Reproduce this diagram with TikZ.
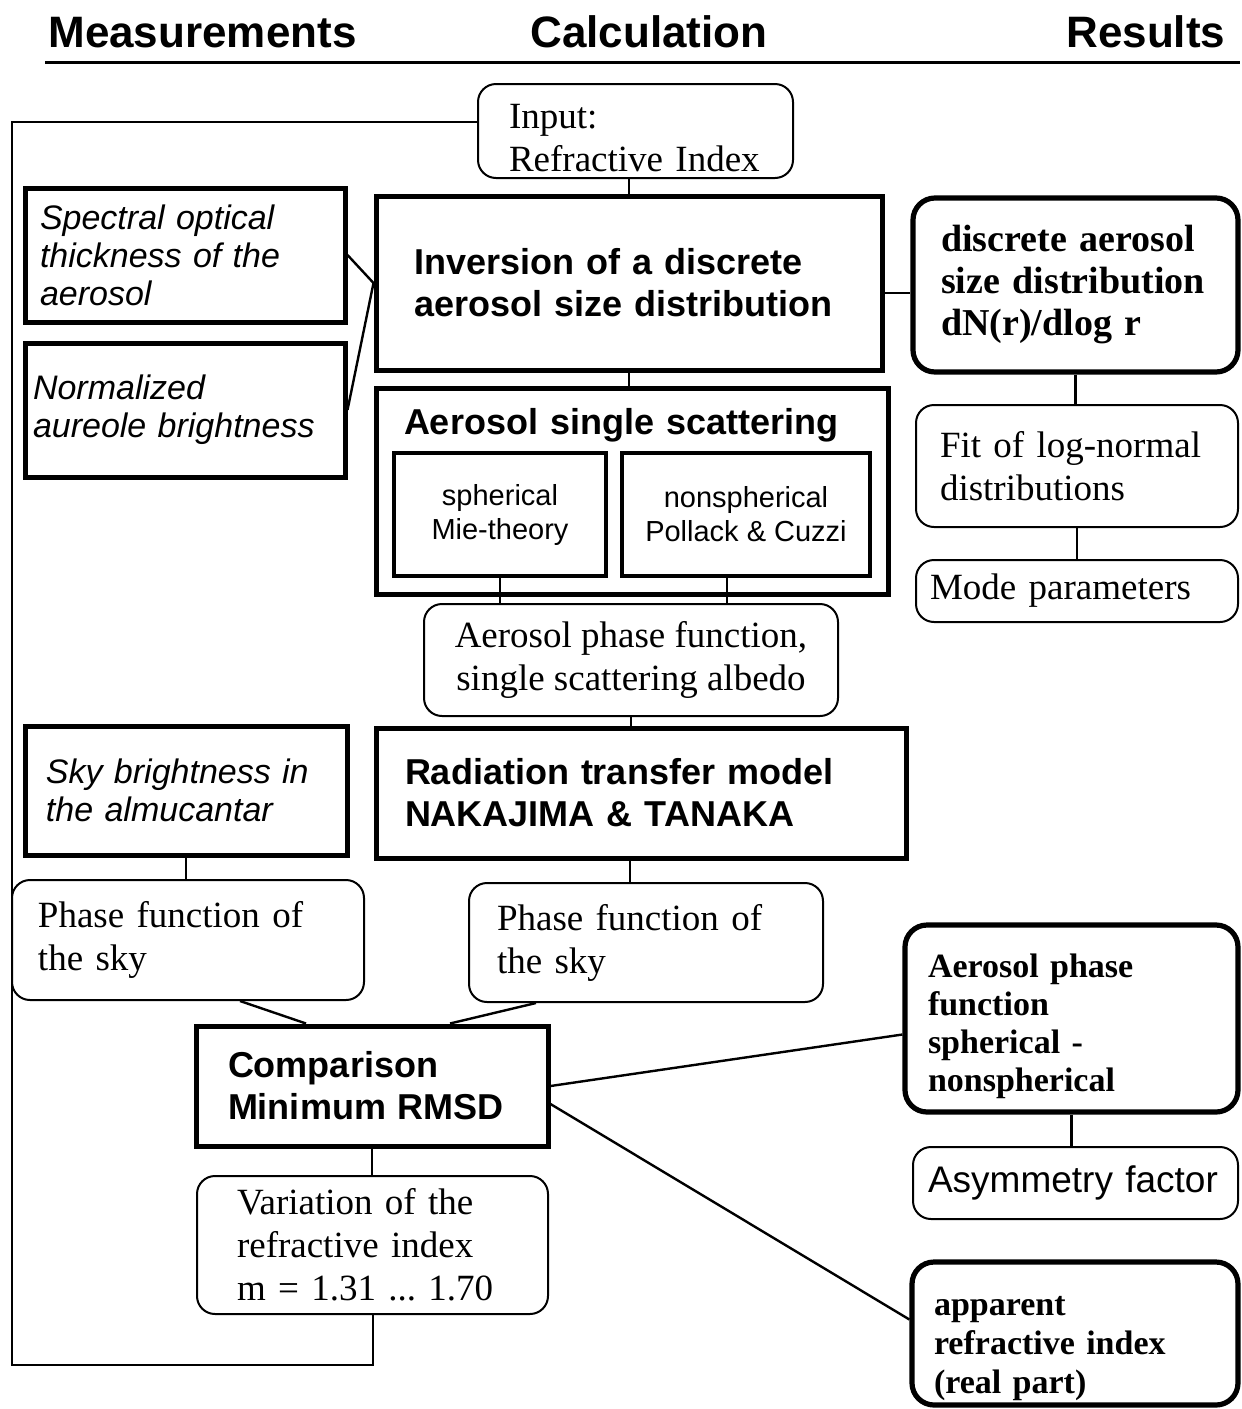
\documentclass[tikz,border=0pt]{standalone}
\usepackage{fontspec}
\setmainfont{Liberation Serif}
\setsansfont{Liberation Sans}
\frenchspacing

\begin{document}
\begin{tikzpicture}[x=0.5pt, y=-0.5pt,
	every node/.style={inner ysep=0pt},
	heavy/.style={draw, line width=2.5pt, align=left},
	soft/.style={draw, line width=1pt, rounded corners=9pt, align=left},
	softheavy/.style={draw, line width=2.6pt, rounded corners=11pt, align=left},
	inner/.style={draw, line width=1.7pt, align=center, font=\sffamily\fontsize{14.5}{17}\selectfont},
	link/.style={line width=1.2pt},
	headfont/.style={font=\sffamily\bfseries\fontsize{22}{26}\selectfont, inner xsep=0pt},
	measfont/.style={font=\sffamily\itshape\fontsize{17}{19}\selectfont},
	calcfont/.style={font=\sffamily\bfseries\fontsize{18}{21}\selectfont},
	plainfont/.style={font=\rmfamily\fontsize{18.5}{21.5}\selectfont},
	resfont/.style={font=\rmfamily\bfseries\fontsize{19}{21}\selectfont}]
	\useasboundingbox (0,0) rectangle (1242,1409);
	% column titles
	\node[headfont, anchor=base west] (hmeas) at (48,47) {Measurements};
	\node[headfont, anchor=base west] (hcalc) at (530,47) {Calculation};
	\node[headfont, anchor=base west] (hres) at (1066,47) {Results};
	\draw[line width=1.5pt] (45,62) -- (1240,62);
	% measurements
	\node[measfont, heavy, minimum width=160pt, minimum height=67pt, inner xsep=7.5pt, text width=145pt] (spec) at (185,255) {Spectral optical\\thickness of the\\aerosol};
	\node[measfont, heavy, minimum width=160pt, minimum height=67pt, inner xsep=4pt, text width=152pt] (norm) at (185,410) {Normalized\\aureole brightness};
	\node[measfont, heavy, minimum width=161pt, minimum height=64.5pt, inner xsep=10.5pt, text width=140pt] (sky) at (186,790.5) {Sky brightness in\\the almucantar};
	\node[plainfont, soft, minimum width=176pt, minimum height=60pt, inner xsep=13pt, text width=150pt] (phl) at (188,940) {Phase function of\\the sky};
	% calculation
	\node[plainfont, soft, minimum width=157.5pt, minimum height=47pt, inner xsep=15.5pt, text width=126.5pt] (inp) at (635.5,131) {\rule{0pt}{19pt}Input:\\Refractive Index};
	\node[calcfont, heavy, minimum width=253pt, minimum height=87pt, inner xsep=19pt, text width=215pt] (inv) at (629,283) {Inversion of a discrete\\aerosol size distribution};
	\node[calcfont, heavy, minimum width=256pt, inner xsep=14pt, text width=228pt, text height=23pt, text depth=80pt] (sing) at (632,491) {Aerosol single scattering};
	\node[inner, minimum width=106pt, minimum height=61.5pt] (sph) at (500,514.5) {spherical\\Mie-theory};
	\node[inner, minimum width=124pt, minimum height=61.5pt] (nsph) at (746,514.5) {nonspherical\\Pollack \& Cuzzi};
	\node[plainfont, soft, align=center, minimum width=207pt, minimum height=56pt] (albedo) at (631,660) {Aerosol phase function,\\single scattering albedo};
	\node[calcfont, heavy, minimum width=265pt, minimum height=65pt, inner xsep=14.5pt, text width=236pt] (rad) at (641,793) {Radiation transfer model\\NAKAJIMA \& TANAKA};
	\node[plainfont, soft, minimum width=177pt, minimum height=59.5pt, inner xsep=14pt, text width=149pt] (phm) at (646,942.5) {Phase function of\\the sky};
	\node[calcfont, heavy, minimum width=176pt, minimum height=60pt, inner xsep=16pt, text width=144pt] (comp) at (372,1086) {Comparison\\Minimum RMSD};
	\node[plainfont, soft, minimum width=175.5pt, minimum height=69pt, inner xsep=20pt, text width=135.5pt] (var) at (372.5,1245) {Variation of the\\refractive index\\m = 1.31 ... 1.70};
	% results
	\node[resfont, softheavy, minimum width=162.5pt, minimum height=87pt, inner xsep=14pt, text width=134.5pt] (disc) at (1075.5,285) {discrete aerosol\\size distribution\\dN(r)/dlog r};
	\node[plainfont, soft, minimum width=161pt, minimum height=61pt, inner xsep=12pt, text width=137pt] (fit) at (1077,466) {Fit of log-normal\\distributions};
	\node[plainfont, soft, minimum width=161pt, minimum height=31pt, inner xsep=7pt, text width=147pt] (mode) at (1077,591) {Mode parameters};
	\node[font=\rmfamily\bfseries\fontsize{17}{19}\selectfont, softheavy, minimum width=166.5pt, minimum height=93.5pt, inner xsep=11.5pt, text width=143.5pt] (aph) at (1071.5,1018.5) {\rule{0pt}{20pt}Aerosol phase\\function\\spherical -\\nonspherical};
	\node[font=\sffamily\fontsize{18.5}{21}\selectfont, soft, minimum width=162.5pt, minimum height=36pt, inner xsep=7.5pt, text width=147.5pt] (asym) at (1075.5,1183) {Asymmetry factor};
	\node[font=\rmfamily\bfseries\fontsize{17}{19.5}\selectfont, softheavy, minimum width=163pt, minimum height=71.5pt, inner xsep=11pt, text width=141pt] (app) at (1075,1333.5) {\rule{0pt}{25pt}apparent\\refractive index\\(real part)};
	% connections
	\draw[link] (inv.north) -- (inv.north |- inp.south);
	\draw[link] (spec.east) -- (inv.west);
	\draw[link] (norm.east) -- (inv.west);
	\draw[link] ([yshift=-5pt]inv.east) -- ([yshift=-5pt]inv.east -| disc.west);
	\draw[link] (disc.south) -- (disc.south |- fit.north);
	\draw[link] (fit.south) -- (fit.south |- mode.north);
	\draw[link] (inv.south) -- (inv.south |- sing.north);
	\draw[link] (sph.south) -- (sph.south |- albedo.north);
	\draw[link] ([xshift=-9.5pt]nsph.south) -- ([xshift=-9.5pt]nsph.south |- albedo.north);
	\draw[link] (albedo.south) -- (albedo.south |- rad.north);
	\draw[link] (sky.south) -- (sky.south |- phl.north);
	\draw[link] ([xshift=-5.5pt]rad.south) -- ([xshift=-5.5pt]rad.south |- phm.north);
	\draw[link] ([xshift=26pt]phl.south) -- ([xshift=-33pt]comp.north);
	\draw[link] ([xshift=-55pt]phm.south) -- ([xshift=39pt]comp.north);
	\draw[link] (comp.east) -- ([yshift=-8pt]aph.west);
	\draw[link] ([yshift=-9pt]comp.east) -- ([yshift=7pt]app.west);
	\draw[link] (comp.south) -- (comp.south |- var.north);
	\draw[link] (aph.south) -- (aph.south |- asym.north);
	% feedback loop
	\coordinate (loopcorner) at (12,1365);
	\draw[line width=1pt] (var.south) |- (loopcorner) |- ([yshift=4.5pt]inp.west);
\end{tikzpicture}
\end{document}
